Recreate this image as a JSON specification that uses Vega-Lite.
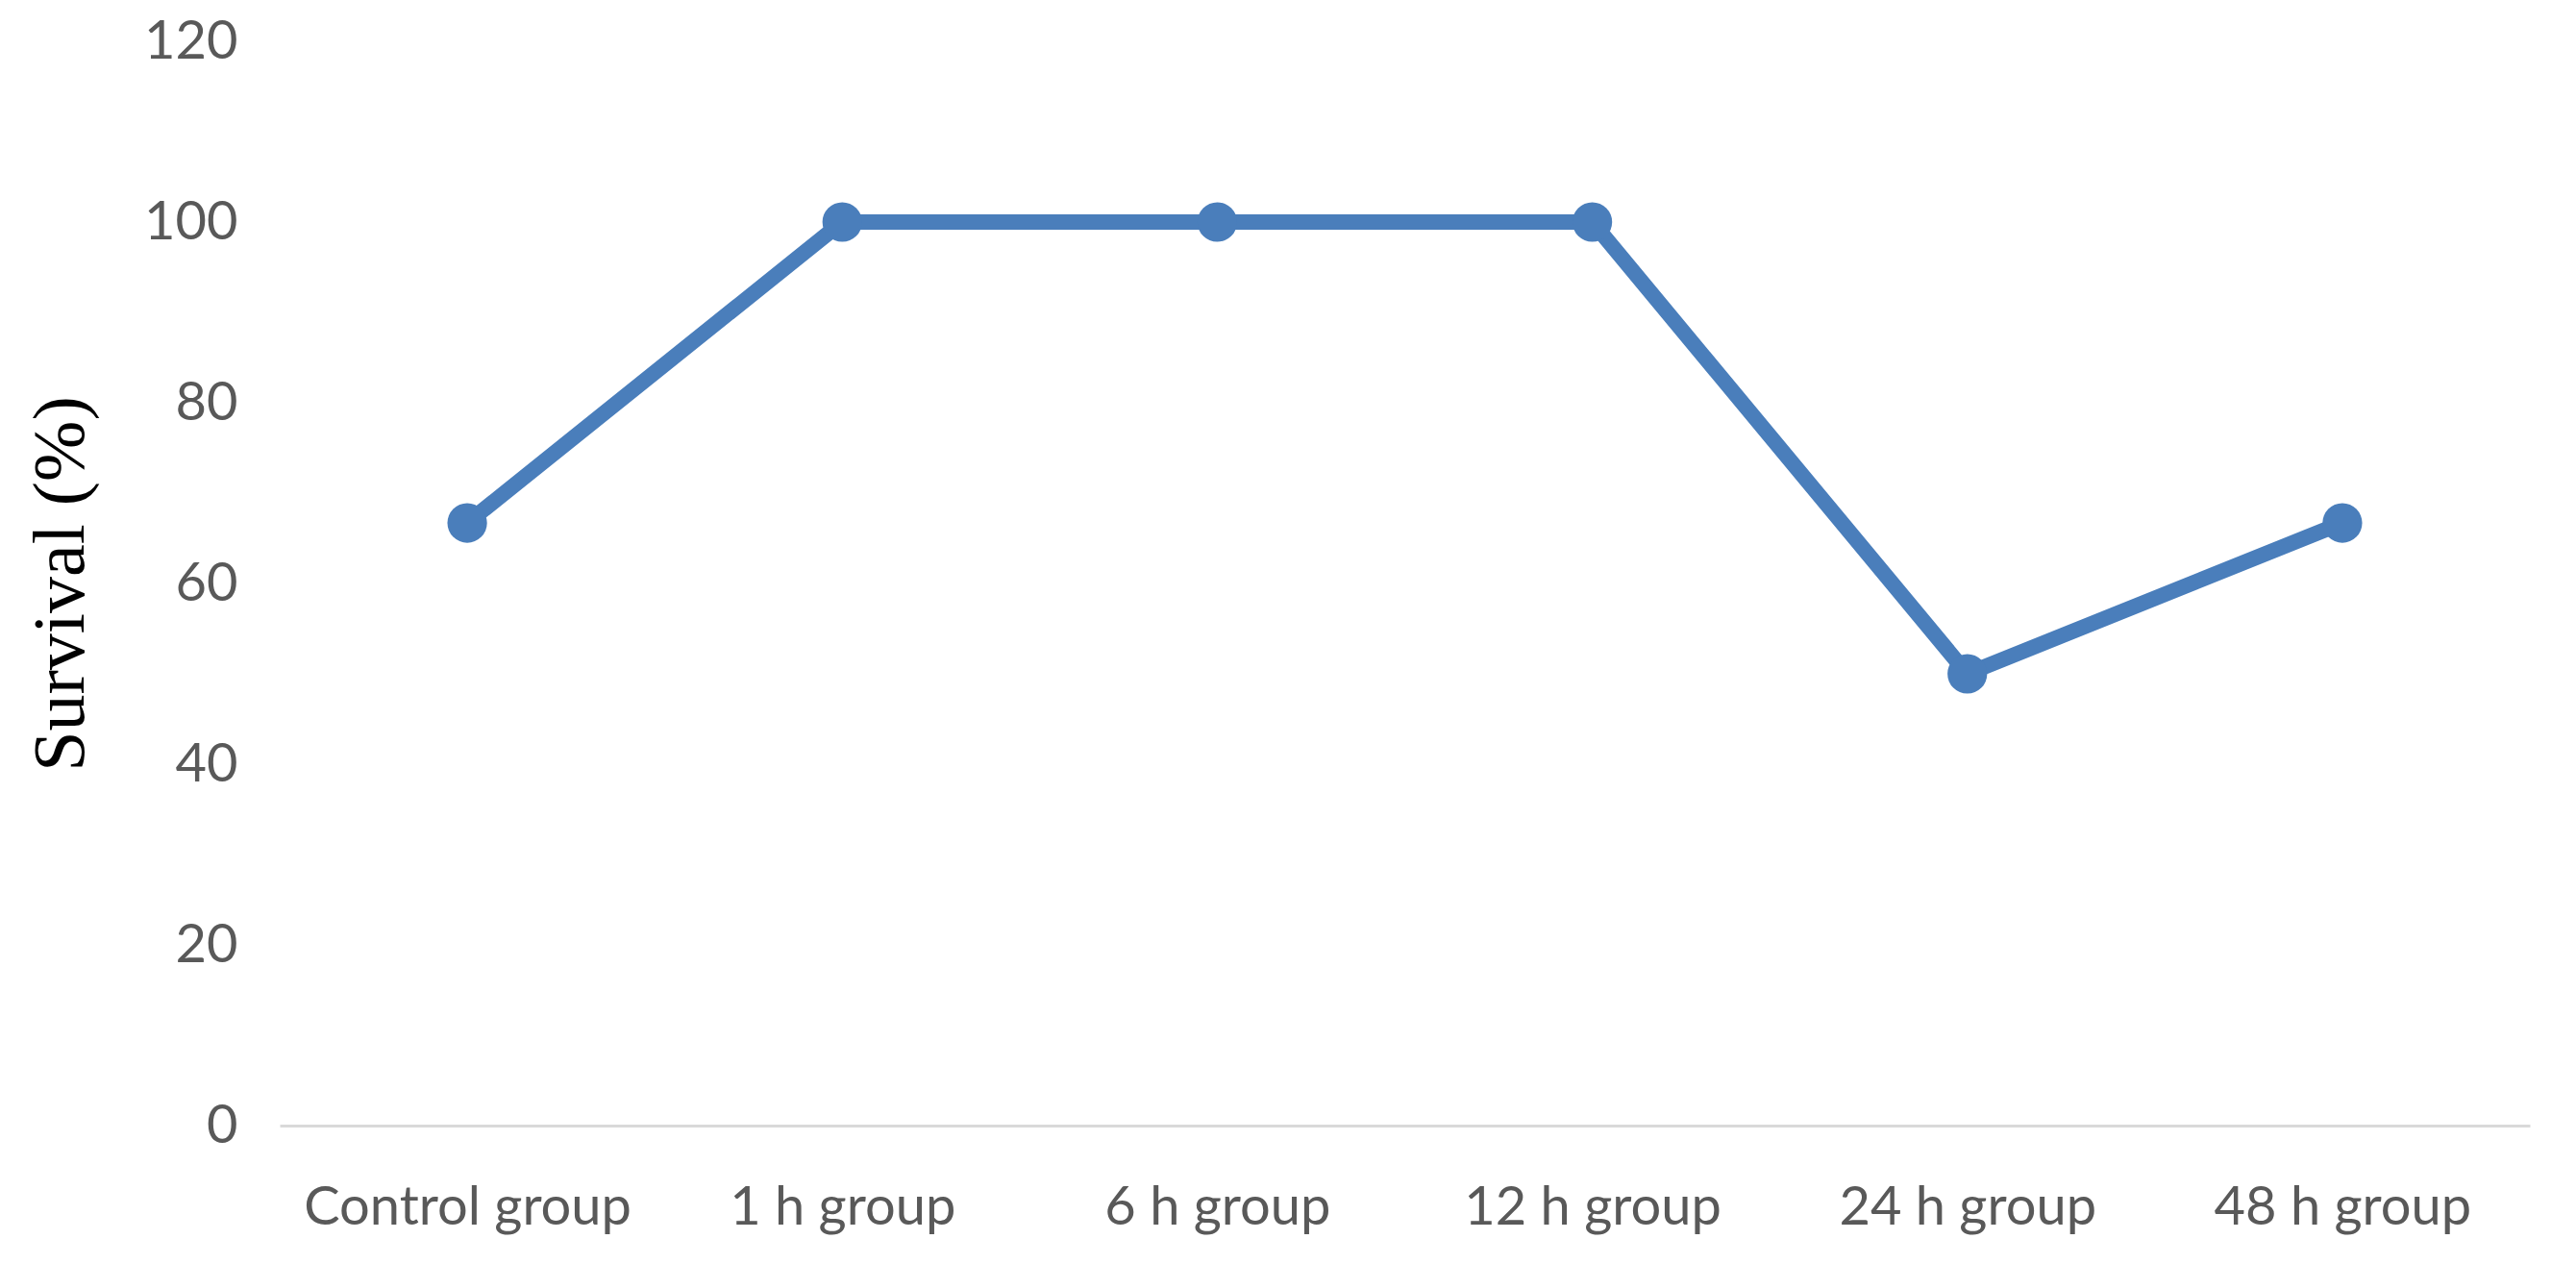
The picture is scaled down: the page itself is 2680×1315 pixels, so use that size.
{
  "$schema": "https://vega.github.io/schema/vega-lite/v6.json",
  "width": 2341,
  "height": 1128,
  "autosize": {"type": "none"},
  "padding": {"left": 291, "top": 43, "right": 48, "bottom": 144},
  "background": "white",
  "data": {
    "values": [
      {"group": "Control group", "survival": 66.7},
      {"group": "1 h group", "survival": 100},
      {"group": "6 h group", "survival": 100},
      {"group": "12 h group", "survival": 100},
      {"group": "24 h group", "survival": 50},
      {"group": "48 h group", "survival": 66.7}
    ]
  },
  "config": {
    "view": {"stroke": null},
    "axis": {"labelFont": "Lato", "labelColor": "#595959", "grid": false, "ticks": false, "labelLimit": 0}
  },
  "encoding": {
    "x": {
      "field": "group",
      "type": "ordinal",
      "sort": null,
      "scale": {"type": "point", "padding": 0.5},
      "axis": {
        "title": null,
        "labelAngle": 0,
        "labelFontSize": 56,
        "labelPadding": 58,
        "domainColor": "#d9d9d9",
        "domainWidth": 3
      }
    },
    "y": {
      "field": "survival",
      "type": "quantitative",
      "scale": {"domain": [0, 120]},
      "axis": {
        "values": [0, 20, 40, 60, 80, 100, 120],
        "domain": false,
        "labelFontSize": 56,
        "labelPadding": 44,
        "title": "Survival (%)",
        "titleFont": "Liberation Serif",
        "titleFontWeight": "normal",
        "titleFontSize": 76,
        "titleColor": "black",
        "titleX": -189,
        "titleAngle": -90
      }
    }
  },
  "layer": [
    {"mark": {"type": "line", "color": "#4A7EBB", "strokeWidth": 16}},
    {"mark": {"type": "point", "filled": true, "opacity": 1, "color": "#4A7EBB", "size": 1700}}
  ]
}
